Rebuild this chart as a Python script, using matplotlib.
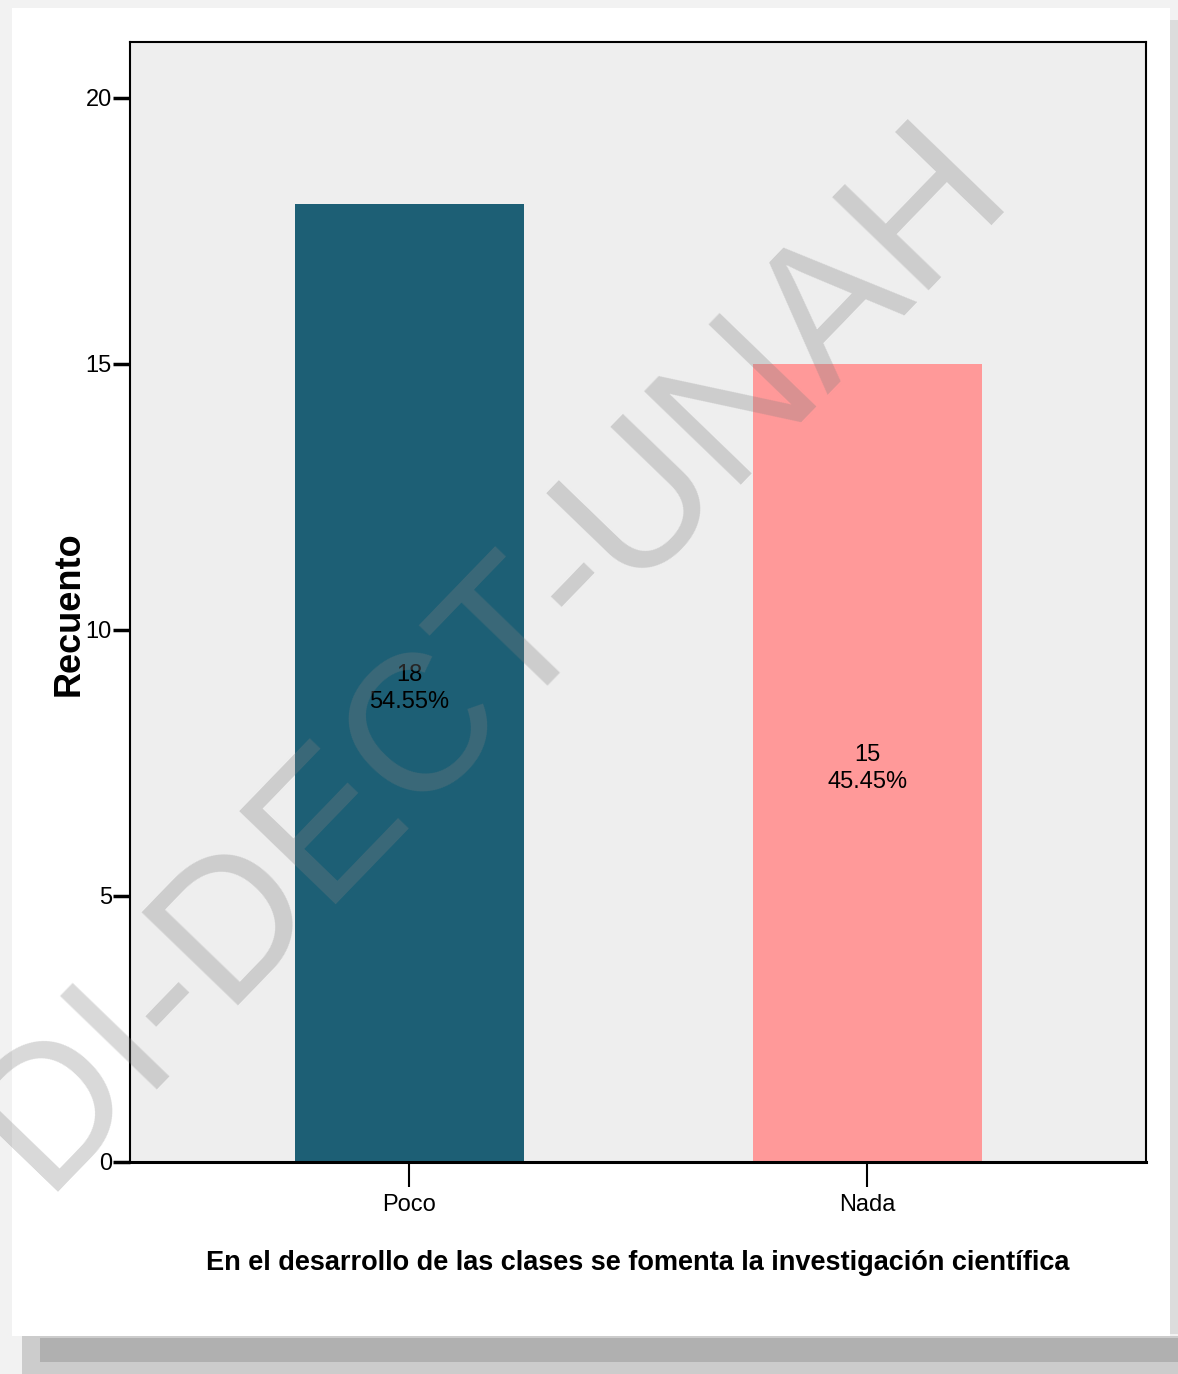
import matplotlib.pyplot as plt
from matplotlib.patches import Rectangle

# datos
categorias = ['Poco', 'Nada']
recuento = [18, 15]
porcentajes = ['54.55%', '45.45%']
colores = ['#1D5F75', '#FF9999']
yticks = [0, 5, 10, 15, 20]

W, H = 1178, 1374
fig = plt.figure(figsize=(W / 100, H / 100), dpi=100)
fig.patch.set_facecolor('#f2f2f2')

# tarjeta blanca con sombra
fig.patches.append(Rectangle((22 / W, 0), 1 - 22 / W, 38 / H, transform=fig.transFigure,
                             facecolor='#cccccc', edgecolor='none', zorder=-3))
fig.patches.append(Rectangle((40 / W, 12 / H), 1 - 40 / W, 24 / H, transform=fig.transFigure,
                             facecolor='#b0b0b0', edgecolor='none', zorder=-3))
fig.patches.append(Rectangle((1 - 10 / W, 40 / H), 10 / W, 1 - 60 / H, transform=fig.transFigure,
                             facecolor='#dcdcdc', edgecolor='none', zorder=-3))
fig.patches.append(Rectangle((12 / W, 38 / H), 1158 / W, 1328 / H, transform=fig.transFigure,
                             facecolor='white', edgecolor='none', zorder=-2))

fuente = ['Liberation Sans', 'DejaVu Sans']

ax = fig.add_axes([130 / W, 1 - 1162 / H, 1016 / W, 1120 / H])
ax.set_facecolor('#EEEEEE')
x = list(range(len(categorias)))
ax.bar(x, recuento, width=0.5, color=colores, zorder=2)
ax.set_xlim(-0.61, 1.608)
ax.set_ylim(0, 21.05)

for xi, v, p in zip(x, recuento, porcentajes):
    ax.text(xi, v / 2 - 0.1, f'{v}\n{p}', ha='center', va='center', fontsize=17,
            family=fuente, linespacing=1.3, zorder=3)

ax.set_yticks(yticks)
ax.set_yticklabels([str(t) for t in yticks], family=fuente, fontsize=17)
ax.set_xticks(x)
ax.set_xticklabels(categorias, family=fuente, fontsize=17)
ax.tick_params(axis='y', direction='out', length=12, width=2.5, pad=1)
ax.tick_params(axis='x', direction='out', length=18, width=1.5, pad=5)
for s in ax.spines.values():
    s.set_linewidth(1.5)
ax.spines['bottom'].set_linewidth(2.2)

ax.set_ylabel('Recuento', fontsize=26, fontweight='bold', family=fuente)
ax.yaxis.set_label_coords(-0.043, 0.49)
ax.set_xlabel('En el desarrollo de las clases se fomenta la investigación científica',
              fontsize=19.5, fontweight='bold', family=fuente)
ax.xaxis.set_label_coords(0.5, -0.079)

# marca de agua
fig.text(490 / W, 1 - 655 / H, 'DI-DECT-UNAH', fontsize=140, color='#808080', alpha=0.3,
         rotation=46, ha='center', va='center', family=fuente, zorder=10)

fig.savefig('out.png', dpi=100, facecolor=fig.get_facecolor())
